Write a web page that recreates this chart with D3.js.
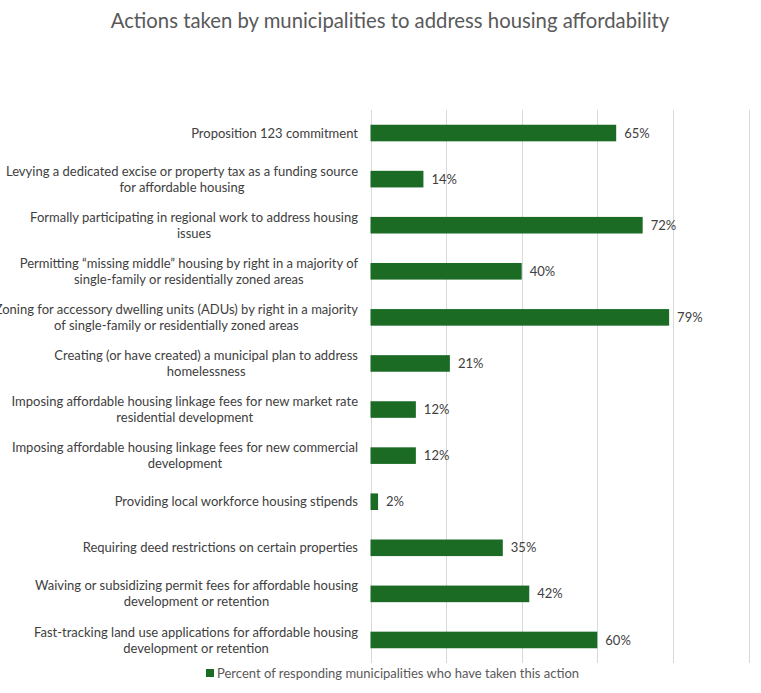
<!DOCTYPE html>
<html><head><meta charset="utf-8">
<script src="https://cdn.jsdelivr.net/npm/d3@7"></script>
<style>body{margin:0;background:#fff}svg{display:block}text{font-family:Lato,"Open Sans",sans-serif}</style>
</head><body><svg id="c" width="761" height="693"></svg>
<script>
const categories = [
  ["Proposition 123 commitment"],
  ["Levying a dedicated excise or property tax as a funding source","for affordable housing"],
  ["Formally participating in regional work to address housing","issues"],
  ["Permitting \u201cmissing middle\u201d housing by right in a majority of","single-family or residentially zoned areas"],
  ["Zoning for accessory dwelling units (ADUs) by right in a majority","of single-family or residentially zoned areas"],
  ["Creating (or have created) a municipal plan to address","homelessness"],
  ["Imposing affordable housing linkage fees for new market rate","residential development"],
  ["Imposing affordable housing linkage fees for new commercial","development"],
  ["Providing local workforce housing stipends"],
  ["Requiring deed restrictions on certain properties"],
  ["Waiving or subsidizing permit fees for affordable housing","development or retention"],
  ["Fast-tracking land use applications for affordable housing","development or retention"]
];
const values = [65,14,72,40,79,21,12,12,2,35,42,60];
const xTicks = [0,20,40,60,80,100];
const seriesName = "Percent of responding municipalities who have taken this action";
const chartTitle = "Actions taken by municipalities to address housing affordability";

const svg = d3.select("#c");
const pLeft = 370.5, pRight = 748.5, pTop = 110, pBottom = 663;
const x = d3.scaleLinear().domain([0,100]).range([pLeft,pRight]);
const y = d3.scaleBand().domain(d3.range(categories.length)).range([pTop,pBottom]).paddingInner(0.64).paddingOuter(0.32);

svg.append("text").attr("x",390).attr("y",28).attr("text-anchor","middle")
  .attr("font-size",20.3).attr("fill","#595959").text(chartTitle);

svg.append("g").selectAll("line").data(xTicks).join("line")
  .attr("x1",d=>Math.round(x(d))+0.5).attr("x2",d=>Math.round(x(d))+0.5)
  .attr("y1",pTop).attr("y2",pBottom).attr("stroke","#d9d9d9").attr("stroke-width",1);

svg.append("g").selectAll("rect").data(values).join("rect")
  .attr("x",x(0)).attr("y",(d,i)=>y(i)).attr("width",d=>x(d)-x(0)).attr("height",y.bandwidth())
  .attr("fill","#1B6B25");

svg.append("g").selectAll("text").data(values).join("text")
  .attr("x",d=>x(d)+8).attr("y",(d,i)=>y(i)+y.bandwidth()/2).attr("dy","0.35em")
  .attr("font-size",13).attr("fill","#404040").text(d=>d+"%");

const lab = svg.append("g");
categories.forEach((lines,i)=>{
  const cy = y(i)+y.bandwidth()/2;
  const lh = 16;
  const g = lab.append("g");
  const ts = lines.map((t,k)=>g.append("text").attr("font-size",13).attr("fill","#404040")
      .attr("y",cy+(k-(lines.length-1)/2)*lh).attr("dy","0.35em").attr("text-anchor","middle").text(t));
  const w = d3.max(ts,t=>t.node().getComputedTextLength());
  ts.forEach(t=>t.attr("x",358-w/2));
});

const lg = svg.append("g");
lg.append("rect").attr("x",206).attr("y",669).attr("width",8).attr("height",8).attr("fill","#1B6B25");
lg.append("text").attr("x",217).attr("y",673).attr("dy","0.35em").attr("font-size",13).attr("fill","#595959").text(seriesName);
</script></body></html>
